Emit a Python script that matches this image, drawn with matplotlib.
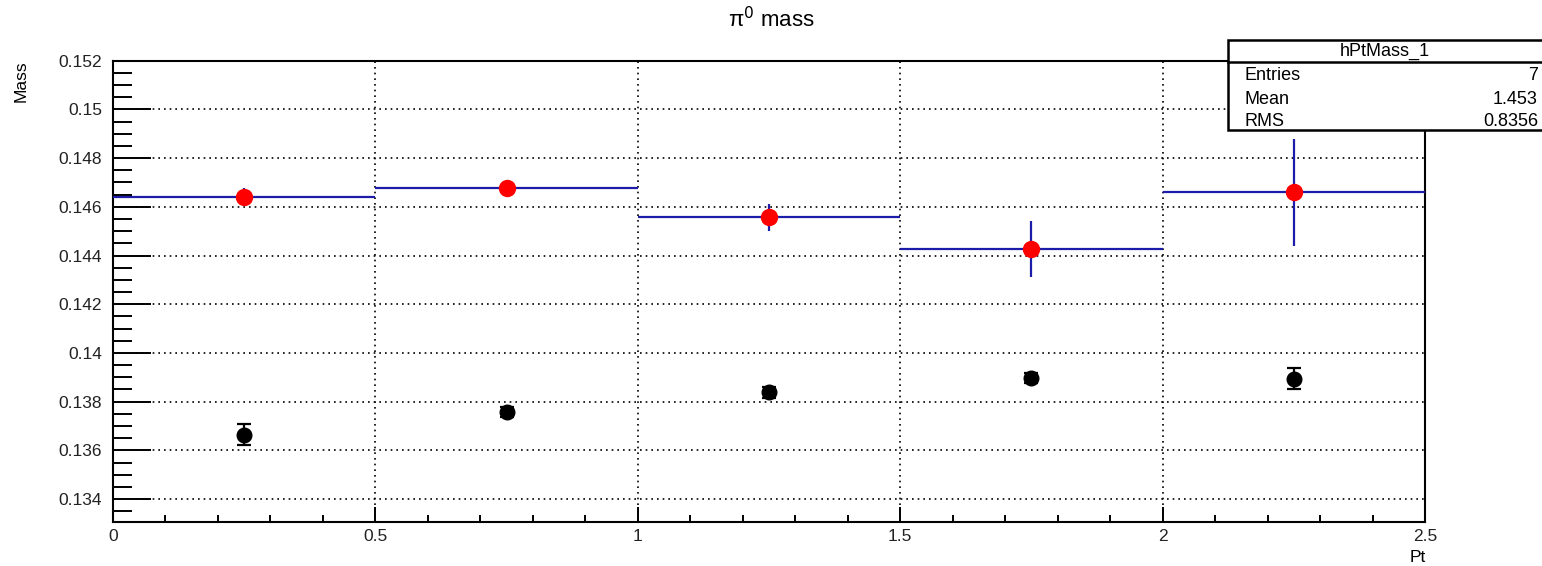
import matplotlib
matplotlib.use("Agg")
import matplotlib.pyplot as plt
from matplotlib.ticker import MultipleLocator

plt.rcParams['font.family'] = ['Liberation Sans', 'DejaVu Sans']

# fitted pi0 mass per Pt bin (red, with bin-width errors)
bin_lo = [0.0, 0.5, 1.0, 1.5, 2.0]
bin_hi = [0.5, 1.0, 1.5, 2.0, 2.5]
fit_mass = [0.14642, 0.14676, 0.14557, 0.14427, 0.14660]
fit_err = [0.00035, 0.0002, 0.00055, 0.00115, 0.00219]

# second set (black)
pt_black = [0.25, 0.75, 1.25, 1.75, 2.25]
mass_black = [0.13665, 0.13758, 0.13838, 0.13896, 0.13895]
err_black = [0.00045, 0.00022, 0.00022, 0.0002, 0.00042]

stats_name = "hPtMass_1"
stats_rows = [("Entries", "7"), ("Mean", "1.453"), ("RMS", "0.8356")]

fig = plt.figure(figsize=(15.42, 5.66), dpi=100)
ax = fig.add_axes([113 / 1542, 1 - 521.7 / 566, 1312 / 1542, (521.7 - 60.7) / 566])

centers = [(a + b) / 2 for a, b in zip(bin_lo, bin_hi)]
half = [(b - a) / 2 for a, b in zip(bin_lo, bin_hi)]
blue = "#1c1ca8"

ax.errorbar(centers, fit_mass, xerr=half, yerr=fit_err, fmt='none',
            ecolor=blue, elinewidth=1.6, zorder=3)
ax.plot(centers, fit_mass, 'o', color='red', markersize=11.5, zorder=4)

ax.errorbar(pt_black, mass_black, yerr=err_black, fmt='o', color='black',
            markersize=10.5, elinewidth=1.6, capsize=5, capthick=1.6, zorder=4)

ax.set_xlim(0, 2.5)
ax.set_ylim(0.13307, 0.152)

ax.xaxis.set_major_locator(MultipleLocator(0.5))
ax.xaxis.set_minor_locator(MultipleLocator(0.1))
ax.yaxis.set_major_locator(MultipleLocator(0.002))
ax.yaxis.set_minor_locator(MultipleLocator(0.0005))
ax.xaxis.set_major_formatter(plt.FuncFormatter(lambda v, p: f"{v:g}"))
ax.yaxis.set_major_formatter(plt.FuncFormatter(lambda v, p: f"{v:.3f}".rstrip('0').rstrip('.') if v else "0"))

ax.tick_params(axis='both', which='both', direction='in', top=False, right=False,
               labelsize=12.5, width=1.4, labelcolor='#222222')
ax.tick_params(axis='y', which='major', length=27, pad=8)
ax.tick_params(axis='y', which='minor', length=14)
ax.tick_params(axis='x', which='major', length=11, pad=5)
ax.tick_params(axis='x', which='minor', length=5)

ax.grid(True, which='major', color='black', linestyle=(0, (1, 2.4)), linewidth=1.2)
ax.set_axisbelow(True)
for s in ax.spines.values():
    s.set_linewidth(1.5)

fig.text(0.5, 1 - 20 / 566, "π$^{0}$ mass", ha='center', va='center', fontsize=16)
fig.text(21 / 1542, 1 - 60 / 566, "Mass", rotation=90, ha='center', va='top', fontsize=12.5)
fig.text(1418 / 1542, 1 - 557 / 566, "Pt", ha='center', va='center', fontsize=12.5)

# stats box
x0 = 1227.5 / 1542
yt, ym, yb = 1 - 40 / 566, 1 - 62 / 566, 1 - 130 / 566
fig.patches.append(plt.Rectangle((x0, yb), 1.0, yt - yb, transform=fig.transFigure,
                                 facecolor='white', edgecolor='black', linewidth=1.8,
                                 zorder=10))
fig.lines.append(plt.Line2D([x0, 1.0], [ym, ym], transform=fig.transFigure,
                            color='black', linewidth=1.8, zorder=11))
fig.text((1228 + 1542) / 2 / 1542, (yt + ym) / 2, stats_name, ha='center', va='center',
         fontsize=13, zorder=12)
row_y = [75, 99, 121]
for (lab, val), y in zip(stats_rows, row_y):
    fig.text(1244 / 1542, 1 - y / 566, lab, ha='left', va='center', fontsize=13, zorder=12)
    fig.text(1538 / 1542, 1 - y / 566, val, ha='right', va='center', fontsize=13, zorder=12)

fig.savefig("out.png", dpi=100)
